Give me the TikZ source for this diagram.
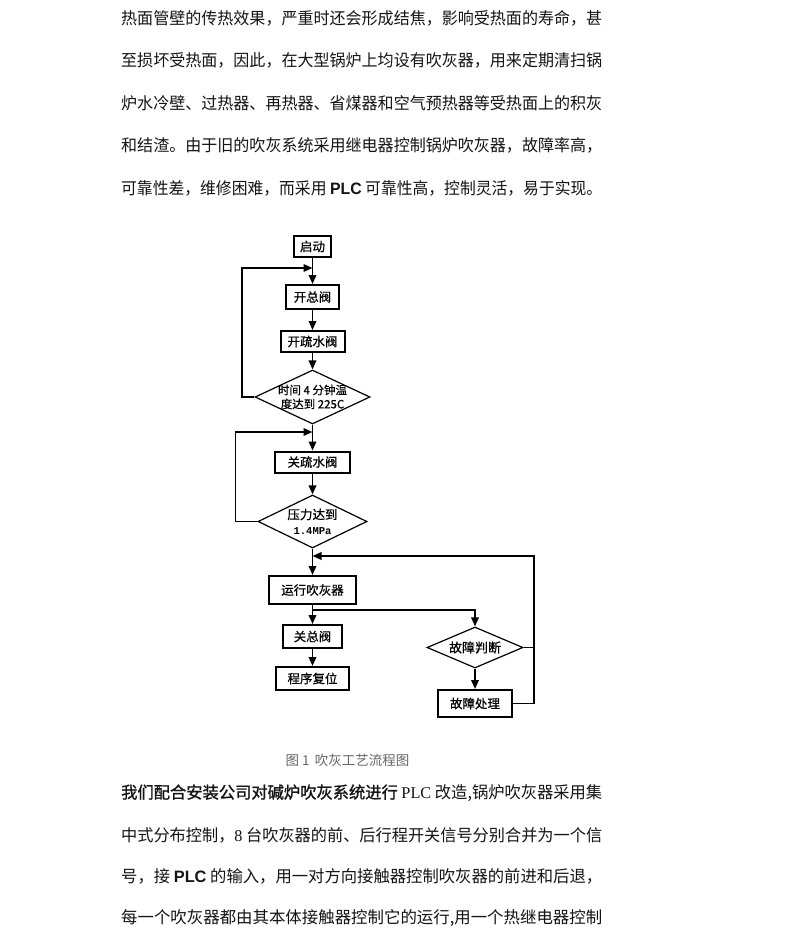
\documentclass[tikz,border=0pt]{standalone}
\usepackage{graphicx}
\usepackage{fontspec}
\setmainfont{Noto Sans CJK SC}
\newfontfamily\lsans{Liberation Sans}
\newfontfamily\lserif{Liberation Serif}
\newfontfamily\lmono{Liberation Mono}
\newfontfamily\cjkb{Noto Sans CJK SC}[FakeBold=1.2]
\newfontfamily\cjkm{Noto Sans CJK SC}[FakeBold=0.6]
\usetikzlibrary{shapes.geometric,arrows.meta}
\newcommand\fitline[1]{\resizebox{481pt}{\height}{\fontsize{16.5pt}{16.5pt}\selectfont #1}}
\tikzset{
  bodyline/.style={anchor=west, inner sep=0pt, text=black!92},
  flowbox/.style={draw, line width=2pt, inner sep=0pt, font=\cjkm\fontsize{12.5pt}{13pt}\selectfont},
  dia/.style={diamond, draw, line width=1.2pt, inner sep=0pt},
  dtext/.style={inner sep=0pt, align=center, font=\cjkm\fontsize{11.5pt}{14pt}\selectfont},
  conn/.style={line width=1.8pt},
  arr/.style={line width=1.8pt, -{Triangle[length=9pt,width=7.5pt]}}
}
\begin{document}
\begin{tikzpicture}[x=1pt,y=-1pt]
\useasboundingbox (0,0) rectangle (796,940);
\fill[white] (0,0) rectangle (796,940);

% top paragraph
\node[bodyline] (t1) at (121,18) {\fitline{热面管壁的传热效果，严重时还会形成结焦，影响受热面的寿命，甚}};
\node[bodyline] (t2) at (121,60.5) {\fitline{至损坏受热面，因此，在大型锅炉上均设有吹灰器，用来定期清扫锅}};
\node[bodyline] (t3) at (121,103) {\fitline{炉水冷壁、过热器、再热器、省煤器和空气预热器等受热面上的积灰}};
\node[bodyline] (t4) at (121,145.5) {\fitline{和结渣。由于旧的吹灰系统采用继电器控制锅炉吹灰器，故障率高，}};
\node[bodyline] (t5) at (121,188) {\fitline{可靠性差，维修困难，而采用 {\lsans\bfseries PLC} 可靠性高，控制灵活，易于实现。}};

% flowchart
\node[flowbox, minimum width=37pt, minimum height=21pt] (start) at (312.5,246.5) {启动};
\node[flowbox, minimum width=53pt, minimum height=24pt] (kz) at (312.5,297) {开总阀};
\node[flowbox, minimum width=64pt, minimum height=21pt] (kss) at (312.5,341.5) {开疏水阀};
\node[dia, minimum width=115pt, minimum height=54pt] (d1) at (312.5,397) {};
\node[dtext] (d1t) at (d1) {时间 4 分钟温\\度达到 225C};
\node[flowbox, minimum width=75pt, minimum height=21pt] (gss) at (312.5,462) {关疏水阀};
\node[dia, minimum width=109pt, minimum height=53pt] (d2) at (312.5,521.5) {};
\node[dtext, font=\cjkm\fontsize{12.5pt}{15pt}\selectfont] (d2t) at (d2) {压力达到\\{\lmono\bfseries\fontsize{10.5pt}{12pt}\selectfont 1.4MPa}};
\node[flowbox, minimum width=87pt, minimum height=28pt] (run) at (312.5,590) {运行吹灰器};
\node[flowbox, minimum width=59pt, minimum height=23pt] (gz) at (312.5,636.5) {关总阀};
\node[flowbox, minimum width=73pt, minimum height=23pt] (reset) at (312.5,678.5) {程序复位};
\node[dia, minimum width=96pt, minimum height=41pt] (d3) at (475,647.5) {};
\node[dtext, font=\cjkm\fontsize{13pt}{14pt}\selectfont] (d3t) at (d3) {故障判断};
\node[flowbox, minimum width=74pt, minimum height=27pt] (fp) at (475,703.5) {故障处理};

\coordinate (j1) at (312.5,268);
\coordinate (j2) at (312.5,432);
\coordinate (j3) at (312.5,556);
\coordinate (j4) at (312.5,610);

\draw[arr] (start.south) -- (kz.north);
\draw[arr] (d1.west) -- ++(-12.5,0) |- (j1);
\draw[arr] (kz.south) -- (kss.north);
\draw[arr] (kss.south) -- (d1.north);
\draw[arr] (d1.south) -- (gss.north);
\draw[arr] (d2.west) -- ++(-22,0) |- (j2);
\draw[arr] (gss.south) -- (d2.north);
\draw[arr] (d2.south) -- (run.north);
\draw[arr] (fp.east) -- ++(21,0) |- (j3);
\draw[conn] (d3.east) -- ++(10,0);
\draw[arr] (run.south) -- (gz.north);
\draw[arr] (j4) -| (d3.north);
\draw[arr] (gz.south) -- (reset.north);
\draw[arr] (d3.south) -- (fp.north);

\node[inner sep=0pt, text=black!60, font=\fontsize{13.5pt}{14pt}\selectfont] (cap) at (347.5,760) {图 1 \,吹灰工艺流程图};

% bottom paragraph
\node[bodyline] (b1) at (121,793) {\fitline{{\cjkb 我们配合安装公司对碱炉吹灰系统进行} {\lserif PLC} 改造,锅炉吹灰器采用集}};
\node[bodyline] (b2) at (121,835) {\fitline{中式分布控制，{\lserif 8} 台吹灰器的前、后行程开关信号分别合并为一个信}};
\node[bodyline] (b3) at (121,876.5) {\fitline{号，接 {\lsans\bfseries PLC} 的输入，用一对方向接触器控制吹灰器的前进和后退，}};
\node[bodyline] (b4) at (121,918) {\fitline{每一个吹灰器都由其本体接触器控制它的运行,用一个热继电器控制}};
\end{tikzpicture}
\end{document}
